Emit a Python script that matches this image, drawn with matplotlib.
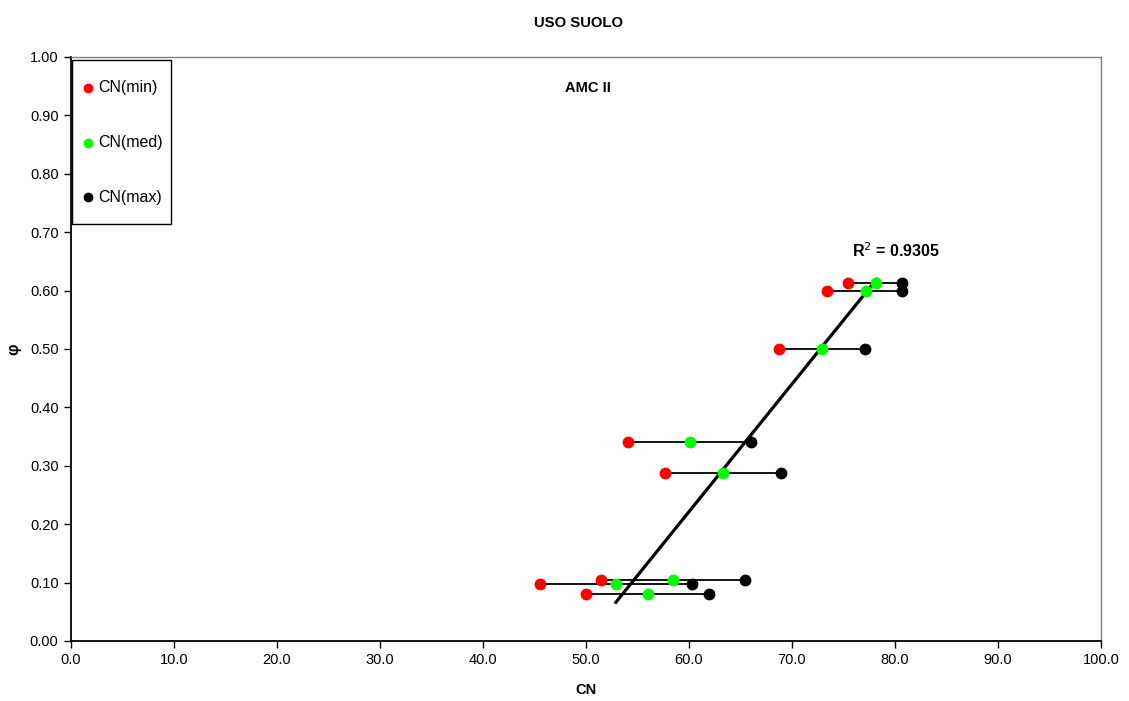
# Scatter of phi against CN (min / med / max) with linear trend on CN(med)

import numpy as np
import matplotlib.pyplot as plt
from matplotlib.patches import Rectangle

plt.rcParams['font.family'] = ['Liberation Sans', 'DejaVu Sans']

phi = [0.613, 0.600, 0.500, 0.341, 0.288, 0.104, 0.098, 0.080]
cn_min = [75.4, 73.4, 68.7, 54.1, 57.7, 51.5, 45.5, 50.0]
cn_med = [78.2, 77.2, 72.9, 60.1, 63.3, 58.4, 52.9, 56.0]
cn_max = [80.7, 80.7, 77.1, 66.0, 68.9, 65.4, 60.3, 61.9]
series_names = ['CN(min)', 'CN(med)', 'CN(max)']
series_colors = ['#ff0000', '#00ff00', 'black']
r2_text = "R$^2$ = 0.9305"

fig = plt.figure(figsize=(11.29, 7.01), dpi=100)
ax = fig.add_axes([0.0629, 0.0856, 0.9123, 0.8331])

# horizontal range lines min -> max
for y, a, b in zip(phi, cn_min, cn_max):
    ax.plot([a, b], [y, y], color='black', lw=1.3, zorder=2)

# linear trend of phi on CN(med)
coeffs = np.polyfit(cn_med, phi, 1)
xs = np.array([min(cn_med), max(cn_med)])
ax.plot(xs, np.polyval(coeffs, xs), color='black', lw=2.3, zorder=3)

for vals, name, col in zip([cn_min, cn_med, cn_max], series_names, series_colors):
    ax.plot(vals, phi, 'o', color=col, ms=7.5, label=name, zorder=4)

ax.set_xlim(0, 100)
ax.set_ylim(0, 1.0)
ax.set_xticks(np.arange(0, 101, 10))
ax.set_xticklabels([f"{v:.1f}" for v in np.arange(0, 101, 10)])
ax.set_yticks(np.arange(0, 1.01, 0.1))
ax.set_yticklabels([f"{v:.2f}" for v in np.arange(0, 1.01, 0.1)])
ax.tick_params(direction='out', length=5, width=1, labelsize=10.5, pad=4)

for s in ['top', 'right']:
    ax.spines[s].set_color('#808080')
    ax.spines[s].set_linewidth(1)
for s in ['left', 'bottom']:
    ax.spines[s].set_linewidth(1.3)

ax.set_xlabel('CN', fontsize=10.5, fontweight='bold', labelpad=11)
ax.set_ylabel('φ', fontsize=11.5, fontweight='bold', rotation=90, labelpad=6)
fig.text(0.512, 0.967, 'USO SUOLO', ha='center', va='center', fontsize=10.7, fontweight='bold')
ax.text(50.2, 0.947, 'AMC II', ha='center', va='center', fontsize=10.5, fontweight='bold')
ax.text(75.8, 0.669, r2_text, ha='left', va='center', fontsize=11.5, fontweight='bold')

# legend box drawn by hand (Excel style, widely spaced entries)
ax.add_patch(Rectangle((0.001, 0.714), 0.0961, 0.281, transform=ax.transAxes,
                       facecolor='white', edgecolor='black', lw=1, zorder=5))
for i, (name, col) in enumerate(zip(series_names, series_colors)):
    yy = 0.947 - i * 0.0935
    ax.plot([0.0165], [yy], 'o', color=col, ms=6, transform=ax.transAxes, zorder=6, clip_on=False)
    ax.text(0.0262, yy, name, transform=ax.transAxes, ha='left', va='center',
            fontsize=11.5, zorder=6)

fig.savefig('out.png', dpi=100)
